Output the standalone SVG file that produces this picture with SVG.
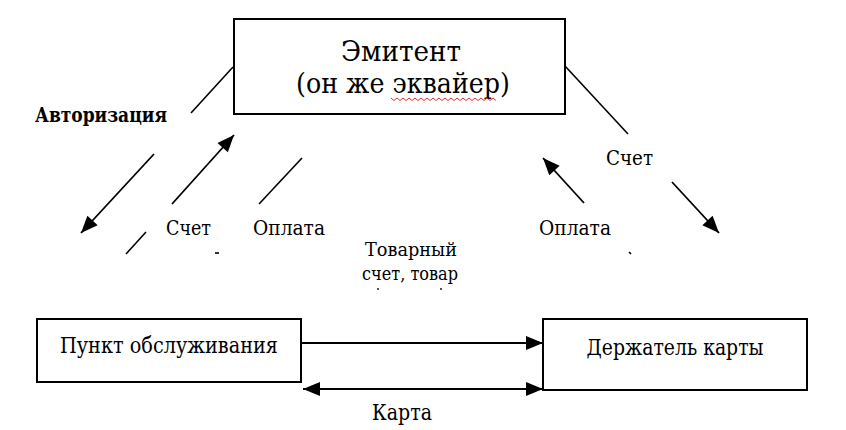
<svg xmlns="http://www.w3.org/2000/svg" width="846" height="430" viewBox="0 0 846 430">
  <style>
    .box { fill: #ffffff; stroke: #000000; stroke-width: 2; }
    .ln { stroke: #000000; stroke-width: 1.6; fill: none; }
    .arr { stroke: #000000; stroke-width: 1.8; fill: none; marker-end: url(#ah); }
  </style>
  <defs>
    <marker id="ah" markerUnits="userSpaceOnUse" markerWidth="20" markerHeight="16" viewBox="0 0 18 16" refX="17" refY="8" orient="auto-start-reverse">
      <path d="M0,1 L17,8 L0,15 Z" fill="#000000"/>
    </marker>
  </defs>
  <rect width="846" height="430" fill="#ffffff"/>

  <g font-family="'DejaVu Serif', 'Liberation Serif', serif" fill="#000000">
  <g id="emitent">
    <rect class="box" x="234" y="19" width="331" height="95"/>
    <text x="401" y="61" font-size="28" text-anchor="middle" textLength="120" lengthAdjust="spacingAndGlyphs">Эмитент</text>
    <text x="403" y="93" font-size="28" text-anchor="middle" textLength="214" lengthAdjust="spacingAndGlyphs">(он же эквайер)</text>
    <path d="M391,98 l3,2.5 l3,-2.5 l3,2.5 l3,-2.5 l3,2.5 l3,-2.5 l3,2.5 l3,-2.5 l3,2.5 l3,-2.5 l3,2.5 l3,-2.5 l3,2.5 l3,-2.5 l3,2.5 l3,-2.5 l3,2.5 l3,-2.5 l3,2.5 l3,-2.5 l3,2.5 l3,-2.5 l3,2.5 l3,-2.5 l3,2.5 l3,-2.5 l3,2.5 l3,-2.5 l3,2.5 l3,-2.5 l3,2.5 l3,-2.5 l3,2.5 l3,-2.5 l3,2.5" fill="none" stroke="#e03030" stroke-width="1"/>
  </g>

  <g id="merchant">
    <rect class="box" x="37" y="319" width="264" height="63"/>
    <text x="169" y="353" font-size="22" text-anchor="middle" textLength="218" lengthAdjust="spacingAndGlyphs">Пункт обслуживания</text>
  </g>

  <g id="cardholder">
    <rect class="box" x="543" y="319" width="264" height="71"/>
    <text x="675" y="355" font-size="22" text-anchor="middle" textLength="177" lengthAdjust="spacingAndGlyphs">Держатель карты</text>
  </g>

  <g id="connectors">
    <line class="ln" x1="233" y1="67" x2="191" y2="113"/>
    <line class="arr" x1="154" y1="154" x2="81" y2="233"/>
    <line class="arr" x1="172" y1="204" x2="234" y2="135"/>
    <line class="ln" x1="259" y1="204" x2="302" y2="158"/>
    <line class="ln" x1="126" y1="254" x2="146" y2="232"/>
    <line class="ln" x1="215" y1="253" x2="219" y2="253"/>
    <line class="ln" x1="565" y1="66" x2="628" y2="134"/>
    <line class="arr" x1="672" y1="182" x2="719" y2="233"/>
    <line class="arr" x1="584" y1="203" x2="543" y2="158"/>
    <line class="ln" x1="629" y1="252" x2="631" y2="254"/>
    <line class="arr" x1="301" y1="343" x2="543" y2="343"/>
    <line class="arr" x1="303" y1="389" x2="543" y2="389" style="marker-start: url(#ah);"/>
    <circle cx="378" cy="289" r="0.9" fill="#000000"/>
    <circle cx="441" cy="289" r="0.9" fill="#000000"/>
  </g>

  <g id="labels">
    <text x="35" y="122" font-size="20" font-weight="bold" textLength="132" lengthAdjust="spacingAndGlyphs">Авторизация</text>
    <text x="166" y="235" font-size="20" textLength="45" lengthAdjust="spacingAndGlyphs">Счет</text>
    <text x="253" y="235" font-size="20" textLength="72" lengthAdjust="spacingAndGlyphs">Оплата</text>
    <text x="606" y="165" font-size="20" textLength="47" lengthAdjust="spacingAndGlyphs">Счет</text>
    <text x="539" y="235" font-size="20" textLength="72" lengthAdjust="spacingAndGlyphs">Оплата</text>
    <text x="365" y="256" font-size="19" textLength="92" lengthAdjust="spacingAndGlyphs">Товарный</text>
    <text x="362" y="280" font-size="19" textLength="96" lengthAdjust="spacingAndGlyphs">счет, товар</text>
    <text x="372" y="420" font-size="23" textLength="60" lengthAdjust="spacingAndGlyphs">Карта</text>
  </g>
  </g>
</svg>
